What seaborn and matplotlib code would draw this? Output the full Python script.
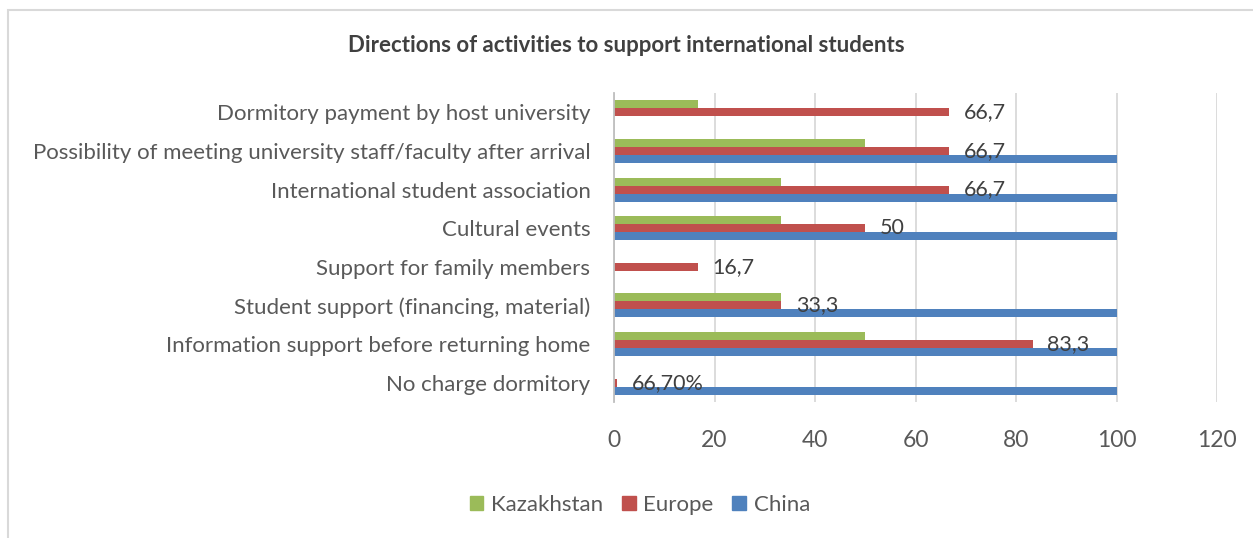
import pandas as pd
import numpy as np
import matplotlib.pyplot as plt
from matplotlib.patches import Rectangle
import seaborn as sns

# data (top to bottom)
activities = ['Dormitory payment by host university',
              'Possibility of meeting university staff/faculty after arrival',
              'International student association',
              'Cultural events',
              'Support for family members',
              'Student support (financing, material)',
              'Information support before returning home',
              'No charge dormitory']
kazakhstan = [16.7, 50, 33.3, 33.3, 0, 33.3, 50, 0]
europe = [66.7, 66.7, 66.7, 50, 16.7, 33.3, 83.3, 0.667]
china = [0, 100, 100, 100, 0, 100, 100, 100]
europe_labels = ['66,7', '66,7', '66,7', '50', '16,7', '33,3', '83,3', '66,70%']
regions = ['Kazakhstan', 'Europe', 'China']
colors = ['#9BBB59', '#C0504D', '#4F81BD']

df = pd.DataFrame({'activity': activities * 3,
                   'value': kazakhstan + europe + china,
                   'region': sum([[r] * len(activities) for r in regions], [])})

sns.set_style('white')
plt.rcParams['font.family'] = ['Lato', 'DejaVu Sans']
txt = '#595959'

fig = plt.figure(figsize=(12.53, 5.38), dpi=100)
ax = fig.add_axes([614 / 1253, 1 - 402 / 538, (1217 - 614) / 1253, (402 - 93) / 538])

sns.barplot(data=df, x='value', y='activity', hue='region', hue_order=regions,
            palette=colors, orient='h', width=0.62, gap=0, saturation=1,
            linewidth=0, ax=ax, legend=False)

ax.bar_label(ax.containers[1], labels=europe_labels, padding=10.5,
             fontsize=15.5, color='#404040')

ax.set_xlim(0, 120)
ax.set_xticks(np.arange(0, 121, 20))
ax.set_xlabel('')
ax.set_ylabel('')
ax.grid(axis='x', color='#D9D9D9', linewidth=1.3)
ax.set_axisbelow(True)
for s in ['top', 'right', 'bottom']:
    ax.spines[s].set_visible(False)
ax.spines['left'].set_color('#BFBFBF')
ax.spines['left'].set_linewidth(1.3)
ax.tick_params(axis='y', length=0, pad=17, labelsize=16, labelcolor=txt)
ax.tick_params(axis='x', length=0, pad=20, labelsize=16.5, labelcolor=txt)

fig.text(0.5, 1 - 46 / 538, 'Directions of activities to support international students',
         ha='center', va='center', fontsize=16, fontweight='bold', color='#404040')

handles = [Rectangle((0, 0), 1, 1, color=c) for c in colors]
fig.legend(handles, regions, loc='center', bbox_to_anchor=(640 / 1253, 1 - 505 / 538),
           ncol=3, frameon=False, fontsize=16, labelcolor=txt,
           handlelength=0.6, handleheight=0.6, handletextpad=0.35, columnspacing=0.85)

# outer chart border
fig.patches.append(Rectangle((8 / 1253, -0.1), 1.2, 1.1 - 10 / 538,
                             transform=fig.transFigure, fill=False,
                             edgecolor='#D9D9D9', linewidth=1.5))

fig.savefig('out.png', dpi=100)
